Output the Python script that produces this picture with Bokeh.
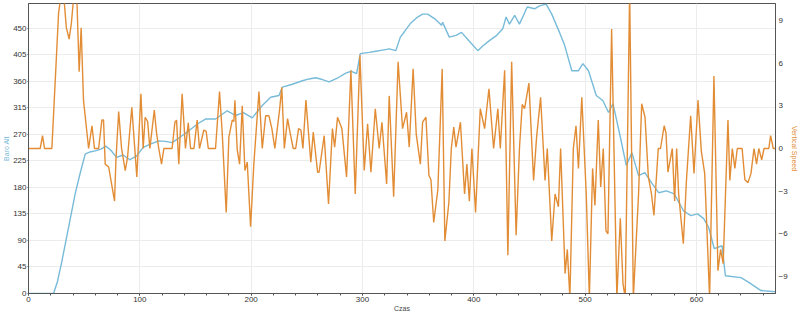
from bokeh.plotting import figure
from bokeh.models import Range1d, LinearAxis, FixedTicker
from bokeh.embed import file_html
from bokeh.resources import INLINE

# Baro Alt series (time in s, altitude)
t_alt = [0, 22.5, 26, 30, 36, 42, 46.4, 51, 55, 60, 65, 69.5, 74, 79, 85, 91, 97, 103, 110, 117,
         123, 129, 136, 144, 152, 159, 168, 178.5, 186, 193, 201, 210, 217.5, 225, 228, 237, 246,
         252, 258, 264, 270, 278, 285, 290, 294.7, 298, 306, 312, 318, 324, 330, 334, 338, 343,
         349.5, 354, 358.5, 365, 371, 372, 378, 384, 389, 396, 403.6, 408, 414, 420, 426, 429,
         432, 436.7, 441, 448, 454.6, 459, 465, 470, 477, 481.6, 488, 494, 498, 503, 510, 516,
         521, 525, 531, 537, 542, 548, 553.6, 559.6, 566, 573, 580, 588.5, 595, 601, 606.5, 611,
         616, 623, 626, 640, 647, 658, 671]
alt = [0, 0, 20, 55, 112, 170, 204, 237, 240, 242, 245, 250, 243, 231, 235, 227, 233, 248, 254, 259,
       258, 256, 265, 276, 288, 296, 296, 310, 302, 307, 298, 319, 333, 336, 350, 355, 361,
       364, 366, 363, 359, 366, 374, 377, 373, 407, 409, 411, 413, 415, 412, 435, 445, 458,
       469, 474, 474, 466, 455, 460, 435, 438, 443, 428, 412, 420, 429, 437, 449, 469,
       457, 472, 457, 486, 483, 488, 491, 474, 443, 421, 378, 378, 390, 378, 336, 327,
       307, 322, 271, 217, 239, 200, 205, 188, 171, 174, 169, 140, 132, 135, 127, 112,
       76, 81, 30, 27, 19, 5, 3]

# Vertical Speed series
t_vs = [0, 10.5, 12.6, 14.4, 21, 27, 29.5, 32, 34, 36.5, 38.5, 41, 43.5, 45.5, 47.3, 49.4, 54, 57,
        59.3, 63, 65.9, 67.4, 68.9, 72, 77.3, 78.5, 81, 83.6, 86.9, 89, 92.8, 97.3, 101, 103,
        104.8, 107, 109, 113, 115, 117, 119.5, 121.6, 129, 131.5, 133, 135, 138, 141, 143.5,
        145.6, 148.6, 151.5, 153.6, 157.5, 159.6, 161.5, 168, 171.6, 174, 177.6, 180, 183,
        184.5, 185.4, 187.5, 189.6, 192, 194.4, 196.5, 199.5, 202.4, 207, 210, 213, 216, 218.6,
        221.3, 225.5, 227.5, 229.8, 232.7, 235, 237.8, 240, 242.6, 244.7, 246.5, 249.2, 253.6,
        255.8, 259.7, 261, 265.6, 269.5, 273, 275, 277.6, 281.5, 285.7, 289.6, 293.5, 297.7,
        301.6, 304.6, 307.6, 311.5, 315, 317.5, 321.7, 324, 328, 332, 336, 339.6, 342, 345.5,
        348.3, 352, 354, 357, 359.7, 361.5, 364, 367.7, 371.6, 374, 377.6, 379.8, 382, 384,
        388, 391.7, 393.8, 396, 398.3, 401.6, 405.8, 409.7, 413.6, 417.8, 421.6, 423.8, 427.7,
        430.6, 434, 438, 441, 443.5, 445.6, 449.5, 453.7, 456.4, 460, 464, 466, 470, 473, 476,
        478, 482, 484, 486.3, 489.4, 491.8, 494, 497, 501, 503.8, 506.7, 508.8, 511.8, 514,
        516.3, 518.7, 520.5, 523.8, 528.5, 531.6, 534, 536, 540, 543.3, 548, 550.8, 553.8,
        556.8, 559.6, 561.8, 565.7, 567.7, 571, 572.6, 574.4, 578.3, 580.4, 582.2, 584, 588.2,
        591, 594.8, 597.8, 601.4, 604.4, 607.4, 611.8, 615.7, 619.3, 621.7, 624, 628.3, 630,
        632.2, 634.5, 636.7, 641, 643.5, 646.3, 649, 651.7, 654, 656, 658.6, 660.7, 665, 666.6,
        669, 671]
vs = [0, 0, 0.9, 0, 0, 9.5, 11, 10.4, 8.5, 7.7, 8.8, 11, 10.4, 5.4, 8.5, 3.4, 0, 1.6,
      0, 0, 2.0, 2.0, -1.1, -1.3, -3.7, -0.85, 2.6, 0, -1.55, -0.6, 2.9, -2.0, 3.85, 0,
      2.2, 1.9, 0, 2.7, 1.1, 0, -1.1, 0, 0, 1.85, 2.0, -1.1, 3.85, 0, 1.8,
      0, 0, 2.0, 0, 1.3, 1.2, 0, 0, 4.0, 1.1, -4.5, 0.8, 2.0,
      1.9, 3.4, -0.1, -1.1, 3.0, -1.55, -0.96, -5.5, -1.1, 4.0, 0, 2.3, 2.3, 1.4,
      0, 2.7, 4.3, 0, 2.1, 1.1, 0, 0, 1.4, 1.3, 0, 3.4, -0.96,
      1.15, -1.67, -1.67, 0.9, -3.9, 1.4, 0.1, 2.2, 1.4, -2.0, 5.5, -3.2, 6.55,
      -1.55, 1.74, -1.67, 2.8, 0, 1.85, -2.5, 3.7, -3.4, 6.1, 1.4, 2.55, 0.1, 5.6,
      1.0, -1.1, 1.85, 2.2, -1.9, -2.2, -5.2, -2.9, 5.6, -6.5, -3.8, 0, 1.5, 0.1,
      1.85, -3.2, -1.1, -3.7, 0, -4.5, 2.8, 1.4, 4.2, 0, 2.8, 0, 5.5,
      -7.5, 6.1, -6.1, 0, 3.1, 2.8, 4.6, -2.25, 0.8, 3.6, -2.25, 0, -6.5, -3.2, -4.1,
      0, -8.8, -7.1, -10.5, 0, 1.6, -1.4, 3.6, -3.2, -10.5, -1.4, -4.0, 2.0, -2.7,
      0, -5.8, -6.0, 8.4, -10.5, -4.9, -9.5, -10.5, 11, -10.5, -3.2, 3.15, 2.2,
      -2.0, -3.2, -4.7, 0, 0, 1.6, 1.1, -1.67, 0, -3.7, 0, -3.2, -6.7,
      -2.25, 2.3, -1.75, 3.4, -0.2, -1.75, -10.5, 5.1, -8.6, -7.1, -8.1, 2.0, -2.25,
      0, -1.4, 0, 0, -2.2, -2.4, -1.75, 0, -1.1, 0, -0.8, 0, 0, 0.9,
      0, 0]

alt_ticks = [0, 45, 90, 135, 180, 225, 270, 315, 360, 405, 450]
vs_ticks = [-9, -6, -3, 0, 3, 6, 9]
x_ticks = [0, 100, 200, 300, 400, 500, 600]

BLUE = "#78bbd9"
ORANGE = "#e28d35"
FONT = "Liberation Sans"

p = figure(width=800, height=314, output_backend="svg", toolbar_location=None,
           x_range=Range1d(0, 671), y_range=Range1d(0, 492),
           min_border_left=0, min_border_right=0, min_border_top=3, min_border_bottom=0)
p.extra_y_ranges = {"vs": Range1d(-10.2, 10.2)}
p.background_fill_color = "white"
p.outline_line_color = "#555555"

p.line(t_alt, alt, line_color=BLUE, line_width=1.4)
p.line(t_vs, vs, line_color=ORANGE, line_width=1.4, y_range_name="vs")

# grids
p.xgrid.ticker = FixedTicker(ticks=x_ticks)
p.ygrid.ticker = FixedTicker(ticks=alt_ticks)
p.xgrid.grid_line_color = "#ececec"
p.ygrid.grid_line_color = "#ececec"

# bottom axis
xa = p.xaxis[0]
xa.ticker = FixedTicker(ticks=x_ticks, minor_ticks=list(range(0, 680, 20)))
xa.axis_label = "Czas"
ya = p.yaxis[0]
ya.ticker = FixedTicker(ticks=alt_ticks)
ya.axis_label = "Baro Alt"

ra = LinearAxis(y_range_name="vs", ticker=FixedTicker(ticks=vs_ticks), axis_label="Vertical Speed")
p.add_layout(ra, "right")

for ax in (xa, ya, ra):
    ax.axis_line_color = "#555555"
    ax.major_tick_line_color = "#555555"
    ax.minor_tick_line_color = "#555555"
    ax.major_tick_out = 2
    ax.major_tick_in = 0
    ax.minor_tick_out = 2
    ax.minor_tick_in = 0
    ax.major_label_text_font = FONT
    ax.major_label_text_font_size = "8px"
    ax.major_label_text_color = "#333333"
    ax.major_label_standoff = 1
    ax.axis_label_text_font = FONT
    ax.axis_label_text_font_size = "7px"
    ax.axis_label_text_font_style = "normal"
    ax.axis_label_standoff = 0

ya.major_tick_out = 1
ra.major_tick_out = 0
ra.major_label_standoff = 3
ya.minor_tick_line_color = None
ra.minor_tick_line_color = None
ya.axis_label_text_color = BLUE
ra.axis_label_text_color = ORANGE
xa.axis_label_text_color = "#444444"

open("out.html", "w").write(file_html(p, INLINE))
